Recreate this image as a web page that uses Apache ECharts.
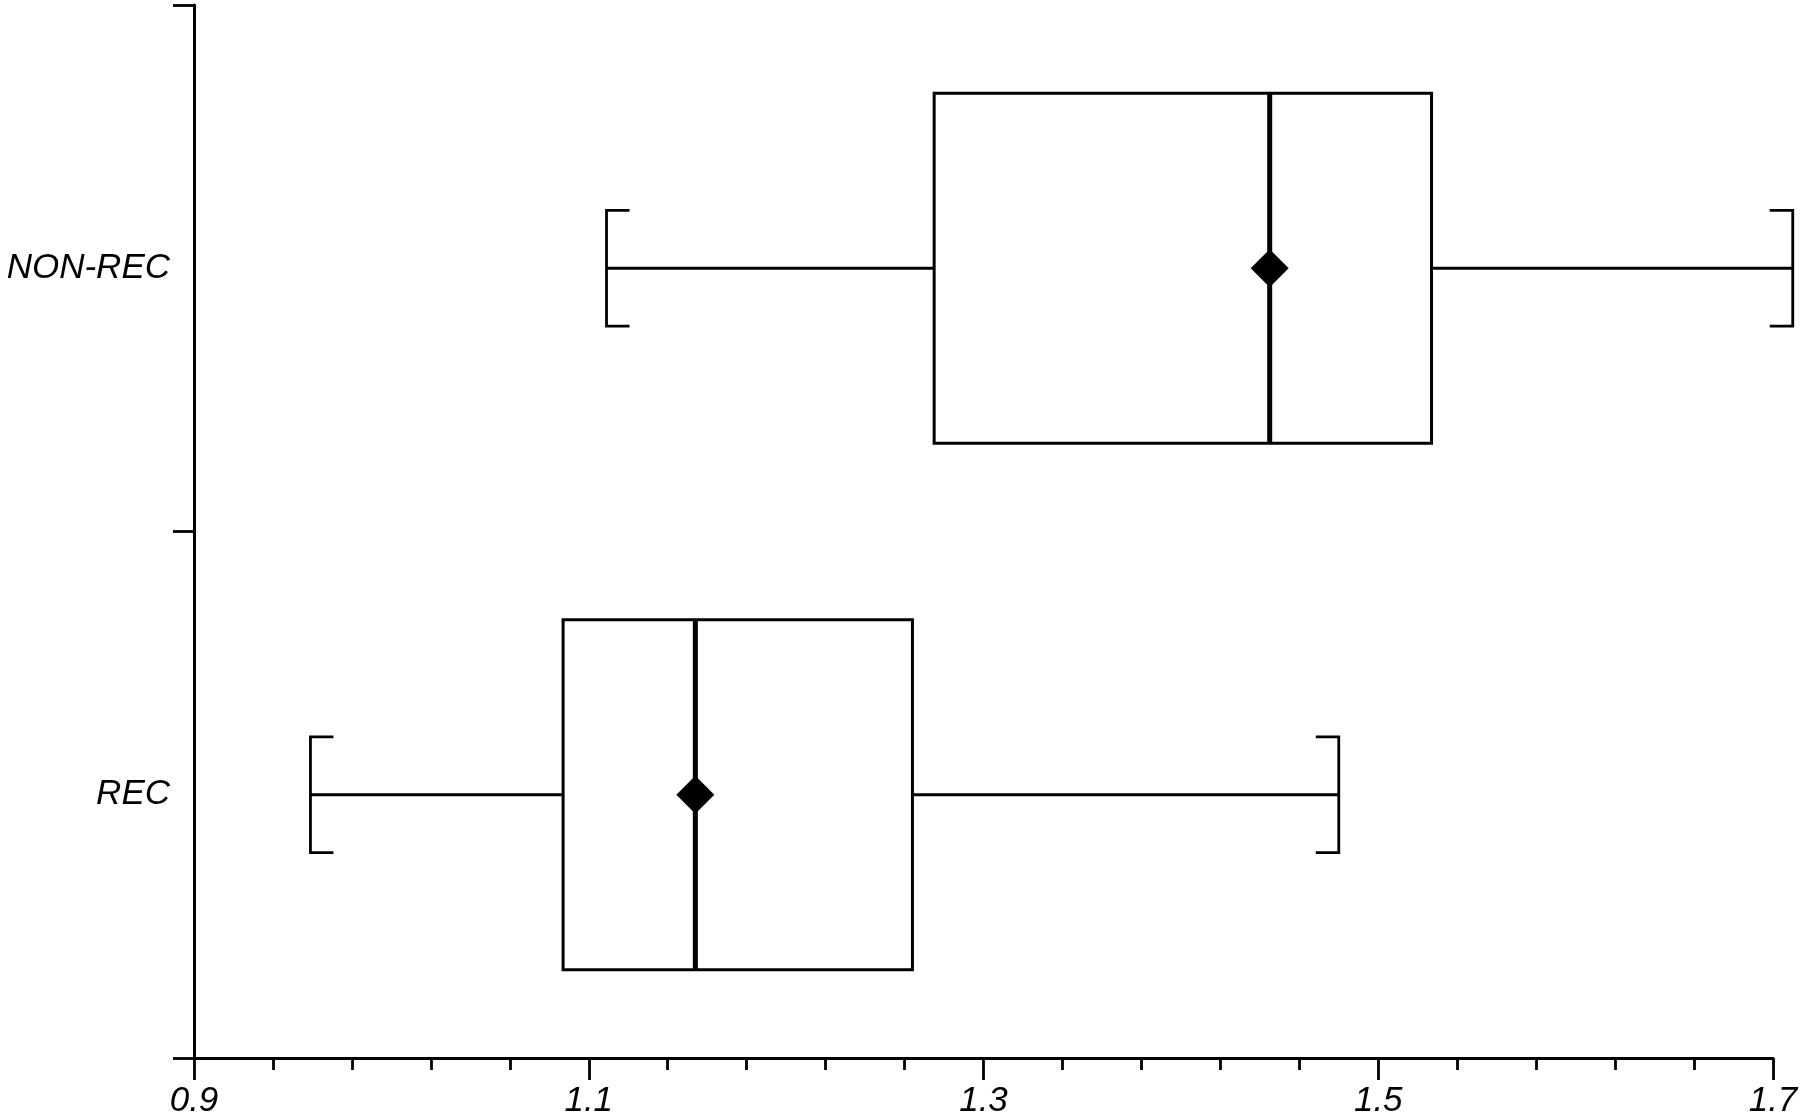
<!DOCTYPE html>
<html>
<head>
<meta charset="utf-8">
<script src="https://cdn.jsdelivr.net/npm/echarts@6/dist/echarts.min.js"></script>
<style>
html,body{margin:0;padding:0;background:#fff;}
#chart{width:1800px;height:1117px;}
</style>
</head>
<body>
<div id="chart"></div>
<script>
// Data
const categories = ['REC', 'NON-REC'];
const minVals    = [0.959, 1.109];
const q1Vals     = [1.087, 1.275];
const medianVals = [1.154, 1.445];
const q3Vals     = [1.264, 1.527];
const maxVals    = [1.480, 1.710];
const meanVals   = [1.154, 1.445];
const xTickLabels = [0.9, 1.1, 1.3, 1.5, 1.7];

const seriesData = categories.map((c, i) =>
  [i, minVals[i], q1Vals[i], medianVals[i], q3Vals[i], maxVals[i], meanVals[i]]);

const chart = echarts.init(document.getElementById('chart'));
const FONT = '"Liberation Sans", Arial, Helvetica, sans-serif';
const BLACK = '#000';

function renderItem(params, api) {
  const cat = api.value(0);
  const lo = api.coord([api.value(1), cat]);
  const q1 = api.coord([api.value(2), cat]);
  const med = api.coord([api.value(3), cat]);
  const q3 = api.coord([api.value(4), cat]);
  const hi = api.coord([api.value(5), cat]);
  const mean = api.coord([api.value(6), cat]);
  const band = api.size([0, 1])[1];
  const bh = band * 0.665;
  const ch = band * 0.22;
  const serif = 23;
  const y = lo[1];
  const lineStyle = {stroke: BLACK, lineWidth: 2.8, fill: null};
  const d = 19;
  return {
    type: 'group',
    children: [
      {type: 'line', shape: {x1: lo[0], y1: y, x2: q1[0], y2: y}, style: lineStyle},
      {type: 'line', shape: {x1: q3[0], y1: y, x2: hi[0], y2: y}, style: lineStyle},
      {type: 'polyline', shape: {points: [[lo[0] + serif, y - ch / 2], [lo[0], y - ch / 2], [lo[0], y + ch / 2], [lo[0] + serif, y + ch / 2]]}, style: lineStyle},
      {type: 'polyline', shape: {points: [[hi[0] - serif, y - ch / 2], [hi[0], y - ch / 2], [hi[0], y + ch / 2], [hi[0] - serif, y + ch / 2]]}, style: lineStyle},
      {type: 'rect', shape: {x: q1[0], y: y - bh / 2, width: q3[0] - q1[0], height: bh}, style: {stroke: BLACK, lineWidth: 3, fill: '#fff'}},
      {type: 'line', shape: {x1: med[0], y1: y - bh / 2, x2: med[0], y2: y + bh / 2}, style: {stroke: BLACK, lineWidth: 5}},
      {type: 'polygon', shape: {points: [[mean[0], mean[1] - d], [mean[0] + d, mean[1]], [mean[0], mean[1] + d], [mean[0] - d, mean[1]]]}, style: {fill: BLACK, stroke: null}}
    ]
  };
}

chart.setOption({
  animation: false,
  backgroundColor: '#fff',
  grid: {left: 194, right: 27, top: 5, bottom: 59, containLabel: false, outerBoundsMode: 'none'},
  xAxis: {
    type: 'value',
    min: 0.9,
    max: 1.7,
    interval: 0.2,
    axisLine: {show: true, onZero: false, lineStyle: {color: BLACK, width: 3}},
    axisTick: {show: true, length: 22, lineStyle: {color: BLACK, width: 2.8}},
    minorTick: {show: true, splitNumber: 5, length: 12, lineStyle: {color: BLACK, width: 2.8}},
    splitLine: {show: false},
    minorSplitLine: {show: false},
    axisLabel: {
      margin: 26,
      color: BLACK,
      fontSize: 35,
      fontStyle: 'italic',
      fontFamily: FONT,
      formatter: v => {
        const f = Number(v).toFixed(1);
        return xTickLabels.map(t => t.toFixed(1)).indexOf(f) >= 0 ? f : '';
      }
    }
  },
  yAxis: {
    type: 'category',
    data: categories,
    boundaryGap: true,
    axisLine: {show: true, lineStyle: {color: BLACK, width: 3}},
    axisTick: {show: true, length: 21, lineStyle: {color: BLACK, width: 2.8}},
    splitLine: {show: false},
    axisLabel: {
      margin: 24,
      color: BLACK,
      fontSize: 35,
      fontStyle: 'italic',
      fontFamily: FONT,
      padding: [8, 0, 0, 0]
    }
  },
  series: [{
    type: 'custom',
    renderItem: renderItem,
    clip: false,
    encode: {x: [1, 2, 3, 4, 5, 6], y: 0},
    data: seriesData,
    silent: true
  }]
});
</script>
</body>
</html>
